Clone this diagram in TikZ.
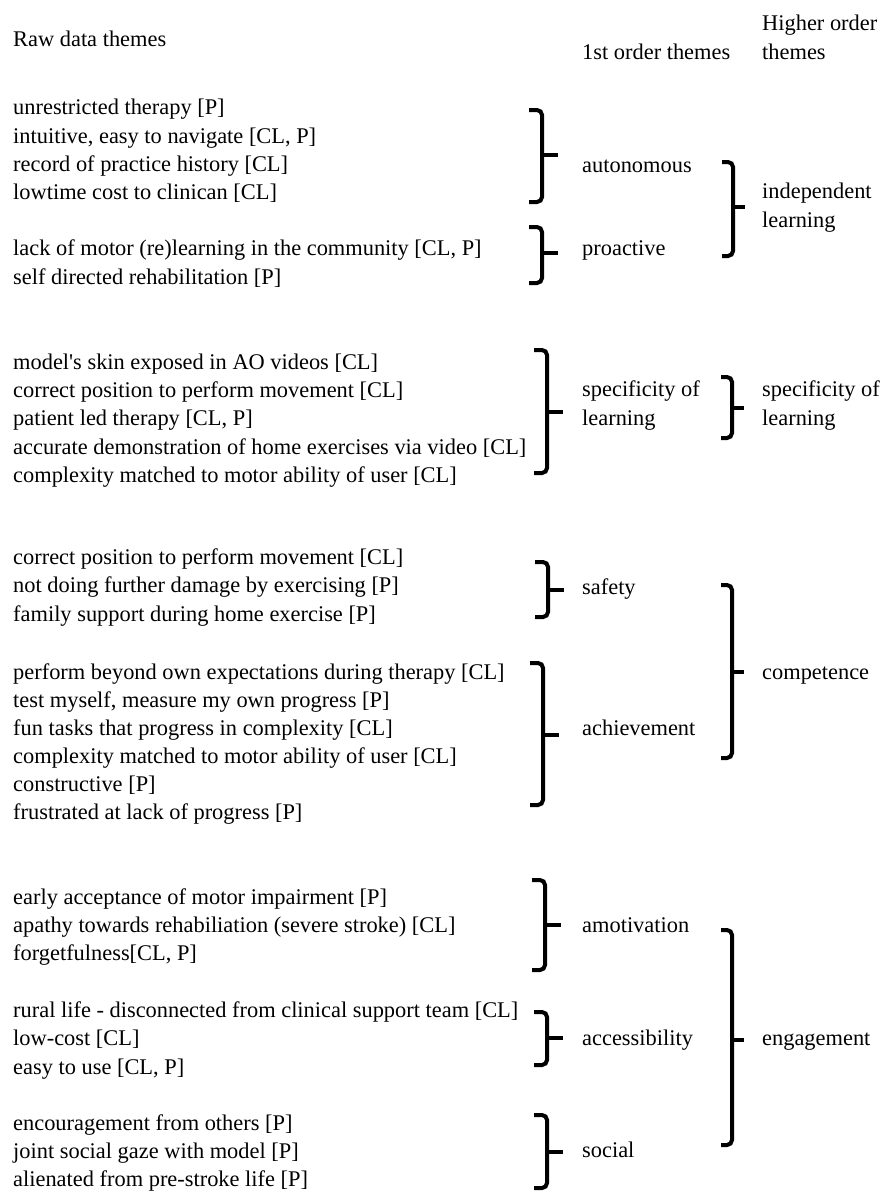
\documentclass[tikz,border=0pt]{standalone}
\usepackage{fontspec}
\setmainfont{Liberation Serif}
\usepackage{tikz}
\newcommand{\themebrace}[4]{%
  \draw[bracket] (#1-13,#2) -| (#1,#3) -- (#1-13,#3);
  \draw[bracket] (#1,#4) -- (#1+16,#4);
}
\newcommand{\higherbrace}[4]{%
  \draw[bracket] (#1-11,#2) -| (#1,#3) -- (#1-11,#3);
  \draw[bracket] (#1,#4) -- (#1+12,#4);
}

\begin{document}
\begin{tikzpicture}[x=1pt, y=-1pt,
  theme/.style={anchor=west, inner sep=0pt, align=left, text height=17pt, text depth=3pt,
    font=\fontsize{22.4}{28.5}\selectfont},
  bracket/.style={line width=4pt, rounded corners=5pt}]
  \useasboundingbox (0,0) rectangle (884,1192);

  % two-line nodes sit at the y of their last line
  \node[theme] (rawhead) at (13,39) {Raw data themes};
  \node[theme] (firsthead) at (582,52) {1st order themes};
  \node[theme] (higherhead) at (762,52) {Higher order\\themes};

  \node[theme] (r1) at (13,107) {unrestricted therapy [P]};
  \node[theme] (r2) at (13,136) {intuitive, easy to navigate [CL, P]};
  \node[theme] (r3) at (13,164) {record of practice history [CL]};
  \node[theme] (r4) at (13,192) {lowtime cost to clinican [CL]};
  \node[theme] (r5) at (13,248) {lack of motor (re)learning in the community [CL, P]};
  \node[theme] (r6) at (13,277) {self directed rehabilitation [P]};

  \node[theme] (r7) at (13,362) {model\textquotesingle s skin exposed in AO videos [CL]};
  \node[theme] (r8) at (13,390) {correct position to perform movement [CL]};
  \node[theme] (r9) at (13,418) {patient led therapy [CL, P]};
  \node[theme] (r10) at (13,447) {accurate demonstration of home exercises via video [CL]};
  \node[theme] (r11) at (13,475) {complexity matched to motor ability of user [CL]};

  \node[theme] (r12) at (13,557) {correct position to perform movement [CL]};
  \node[theme] (r13) at (13,585) {not doing further damage by exercising [P]};
  \node[theme] (r14) at (13,614) {family support during home exercise [P]};
  \node[theme] (r15) at (13,672) {perform beyond own expectations during therapy [CL]};
  \node[theme] (r16) at (13,700) {test myself, measure my own progress [P]};
  \node[theme] (r17) at (13,728) {fun tasks that progress in complexity [CL]};
  \node[theme] (r18) at (13,756) {complexity matched to motor ability of user [CL]};
  \node[theme] (r19) at (13,784) {constructive [P]};
  \node[theme] (r20) at (13,812) {frustrated at lack of progress [P]};

  \node[theme] (r21) at (13,897) {early acceptance of motor impairment [P]};
  \node[theme] (r22) at (13,925) {apathy towards rehabiliation (severe stroke) [CL]};
  \node[theme] (r23) at (13,953) {forgetfulness[CL, P]};
  \node[theme] (r24) at (13,1010) {rural life - disconnected from clinical support team [CL]};
  \node[theme] (r25) at (13,1038) {low-cost [CL]};
  \node[theme] (r26) at (13,1067) {easy to use [CL, P]};
  \node[theme] (r27) at (13,1123) {encouragement from others [P]};
  \node[theme] (r28) at (13,1151) {joint social gaze with model [P]};
  \node[theme] (r29) at (13,1179) {alienated from pre-stroke life [P]};

  % 1st order
  \node[theme] (autonomous) at (582,165) {autonomous};
  \node[theme] (proactive) at (582,248) {proactive};
  \node[theme] (specific) at (582,418) {specificity of\\learning};
  \node[theme] (safety) at (582,587) {safety};
  \node[theme] (achieve) at (582,728) {achievement};
  \node[theme] (amotiv) at (582,925) {amotivation};
  \node[theme] (access) at (582,1038) {accessibility};
  \node[theme] (social) at (582,1150) {social};

  % higher order
  \node[theme] (indep) at (762,220) {independent\\learning};
  \node[theme] (specifictwo) at (762,418) {specificity of\\learning};
  \node[theme] (compet) at (762,672) {competence};
  \node[theme] (engage) at (762,1038) {engagement};

  \themebrace{542}{110}{202}{155}     % autonomous
  \themebrace{542}{227}{283}{253}     % proactive
  \themebrace{547}{350}{473}{412}     % specificity
  \themebrace{548}{562}{617}{590}     % safety
  \themebrace{543}{663}{805}{735}     % achievement
  \themebrace{545}{880}{970}{925}     % amotivation
  \themebrace{547}{1012}{1065}{1038}  % accessibility
  \themebrace{547}{1115}{1188}{1152}  % social

  \higherbrace{733}{162}{256}{207}    % independent learning
  \higherbrace{732}{377}{438}{408}    % specificity of learning
  \higherbrace{732}{585}{758}{672}    % competence
  \higherbrace{732}{930}{1145}{1040}  % engagement

\end{tikzpicture}
\end{document}
